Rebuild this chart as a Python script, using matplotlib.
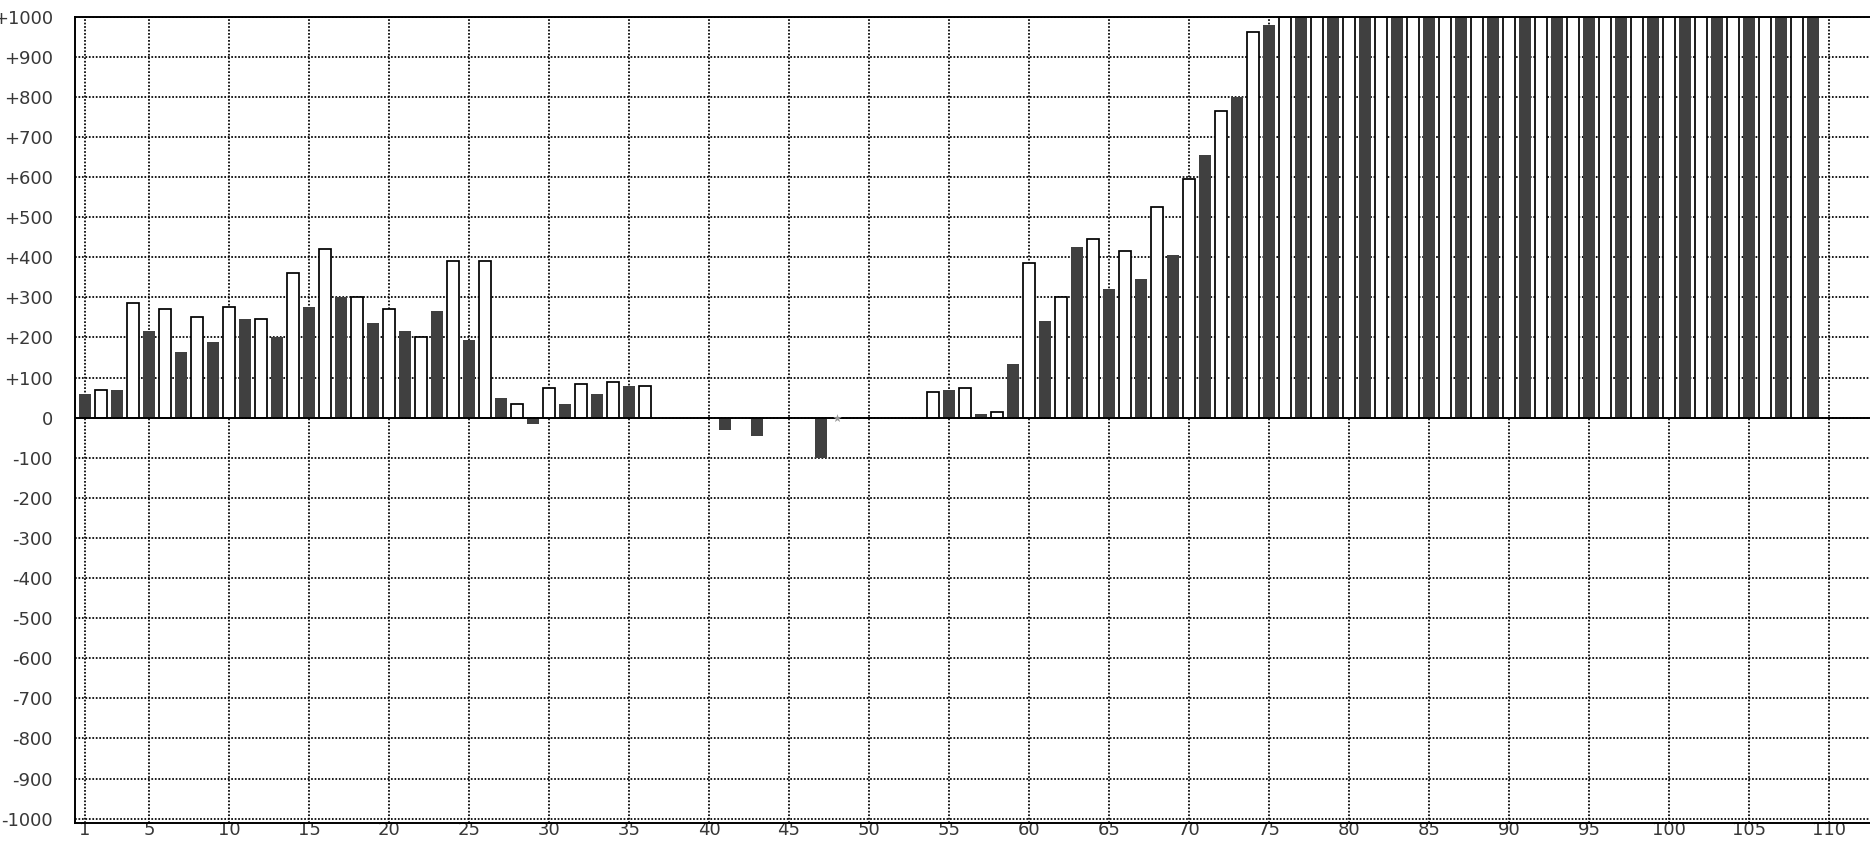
import matplotlib
matplotlib.use("Agg")
import matplotlib.pyplot as plt
import numpy as np

nan = float("nan")

# odd positions 1, 3, ..., 109 (dark bars); nan = no bar
dark_values = [
    60, 70, 215, 165, 190, 245, 200, 275, 300, 235,
    215, 265, 195, 50, -15, 35, 60, 80, nan, nan,
    -30, -45, nan, -100, nan, nan, nan, 70, 10, 135,
    240, 425, 320, 345, 405, 655, 800, 980,
    1000, 1000, 1000, 1000, 1000, 1000, 1000, 1000, 1000,
    1000, 1000, 1000, 1000, 1000, 1000, 1000, 1000,
]
# even positions 2, 4, ..., 108 (white bars)
white_values = [
    70, 285, 270, 250, 275, 245, 360, 420, 300, 270,
    200, 390, 390, 35, 75, 85, 90, 80, nan, nan,
    nan, nan, nan, nan, nan, nan, 65, 75, 15, 385,
    300, 445, 415, 525, 595, 765, 962,
    1000, 1000, 1000, 1000, 1000, 1000, 1000, 1000, 1000,
    1000, 1000, 1000, 1000, 1000, 1000, 1000, 1000,
]
# small grey mark sitting on the zero line
marker_x = [48]
marker_y = [0]

x_ticks = [1] + list(range(5, 111, 5))
y_ticks = list(range(-1000, 1001, 100))

dark_x = np.arange(1, 2 * len(dark_values), 2)
white_x = np.arange(2, 2 * len(white_values) + 1, 2)

W, H = 1870, 844
fig = plt.figure(figsize=(W / 100, H / 100), dpi=100)
ax = fig.add_axes([75 / W, (H - 822.7) / H, 1 - 75 / W, (822.7 - 16.7) / H])

ax.bar(dark_x, dark_values, width=0.75, color="#404040", linewidth=0, zorder=3)
ax.bar(white_x, white_values, width=0.75, facecolor="white",
       edgecolor="black", linewidth=1.25, zorder=3)
ax.scatter(marker_x, marker_y, marker="*", s=40, color="#9a9a9a",
           linewidths=0, zorder=5)
ax.axhline(0, color="black", linewidth=1.4, zorder=4)

ax.set_xlim(0.375, 112.56)
ax.set_ylim(-1010, 1000)
ax.set_xticks(x_ticks)
ax.set_yticks(y_ticks)
ax.set_yticklabels([f"+{v}" if v > 0 else str(v) for v in y_ticks])
ax.grid(True, color="black", linestyle=(0, (1, 1)), linewidth=1.25, zorder=0)
ax.set_axisbelow(True)

ax.tick_params(axis="both", length=0, labelsize=13, labelcolor="#383838")
ax.tick_params(axis="y", pad=16)
ax.tick_params(axis="x", pad=-1)

for side in ("left", "top", "bottom"):
    ax.spines[side].set_linewidth(1.4)
    ax.spines[side].set_zorder(6)
ax.spines["right"].set_visible(False)

fig.savefig("out.png", dpi=100)
